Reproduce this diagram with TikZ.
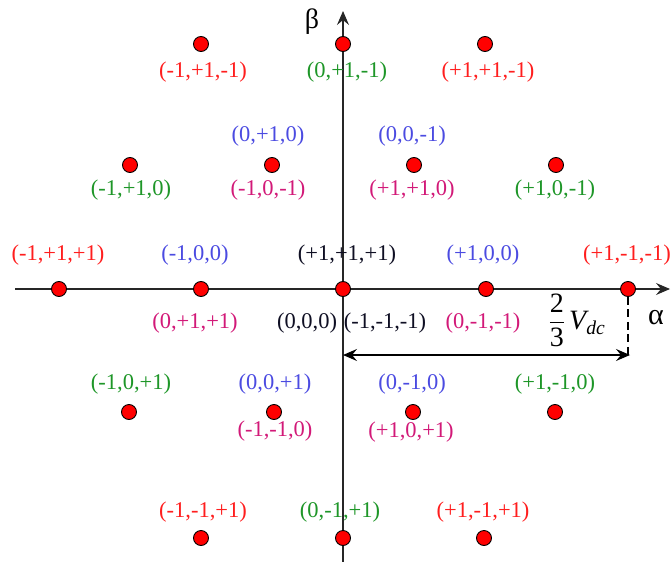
\documentclass[tikz,border=0pt]{standalone}
\usepackage{amsmath}
\usepackage{fontspec}
\setmainfont{Liberation Serif}
\usetikzlibrary{arrows.meta}
\definecolor{cred}{RGB}{255,30,30}
\definecolor{cgreen}{RGB}{30,150,40}
\definecolor{cblue}{RGB}{75,75,225}
\definecolor{cmag}{RGB}{210,25,120}
\definecolor{cblack}{RGB}{15,15,35}
\begin{document}
\begin{tikzpicture}[x=1pt,y=-1pt,
  dot/.style={circle,draw=black,fill=red,line width=0.9pt,minimum size=15pt,inner sep=0pt},
  lab/.style={font=\fontsize{22.5}{24}\selectfont,inner sep=0pt},
  tipx/.tip={Stealth[length=14pt,width=12pt,inset=5pt]},
  axis/.style={line width=1.2pt,draw=black!85,-tipx},
  dim/.style={line width=1.2pt,draw=black,tipx-tipx},
  dimdash/.style={line width=1.2pt,draw=black,dash pattern=on 8pt off 4.5pt}]
\useasboundingbox (0,0) rectangle (672,562);
% axes
\coordinate (xl) at (15,289); \coordinate (xr) at (670,289);
\coordinate (yb) at (343,562); \coordinate (yt) at (343,11);
\draw[axis] (xl) -- (xr);
\draw[axis] (yb) -- (yt);
\node[lab,font=\fontsize{30}{32}\selectfont] (alpha) at (656,318) {α};
\node[lab,font=\fontsize{28}{30}\selectfont] (beta) at (312,22) {β};
% dots
\node[dot] (d1) at (201,44) {};
\node[dot] (d2) at (343,44) {};
\node[dot] (d3) at (485,44) {};
\node[dot] (d4) at (130,165) {};
\node[dot] (d5) at (272,165) {};
\node[dot] (d6) at (414,165) {};
\node[dot] (d7) at (556,165) {};
\node[dot] (d8) at (59,289) {};
\node[dot] (d9) at (201,289) {};
\node[dot] (d0) at (343,289) {};
\node[dot] (d10) at (486,289) {};
\node[dot] (d11) at (628,289) {};
\node[dot] (d12) at (129,412) {};
\node[dot] (d13) at (274,412) {};
\node[dot] (d14) at (413,412) {};
\node[dot] (d15) at (555,412) {};
\node[dot] (d16) at (201,538) {};
\node[dot] (d17) at (343,538) {};
\node[dot] (d18) at (484,538) {};
% labels
\node[lab,text=cred]   (l1)  at (203,72)  {(-1,+1,-1)};
\node[lab,text=cgreen] (l2)  at (347,72)  {(0,+1,-1)};
\node[lab,text=cred]   (l3)  at (488,72)  {(+1,+1,-1)};
\node[lab,text=cblue]  (l4)  at (268,136) {(0,+1,0)};
\node[lab,text=cblue]  (l5)  at (412,136) {(0,0,-1)};
\node[lab,text=cgreen] (l6)  at (131,190) {(-1,+1,0)};
\node[lab,text=cmag]   (l7)  at (268,190) {(-1,0,-1)};
\node[lab,text=cmag]   (l8)  at (412,190) {(+1,+1,0)};
\node[lab,text=cgreen] (l9)  at (555,190) {(+1,0,-1)};
\node[lab,text=cred]   (l10) at (58,255)  {(-1,+1,+1)};
\node[lab,text=cblue]  (l11) at (195,255) {(-1,0,0)};
\node[lab,text=cblack] (l12) at (347,255) {(+1,+1,+1)};
\node[lab,text=cblue]  (l13) at (483,255) {(+1,0,0)};
\node[lab,text=cred]   (l14) at (627,255) {(+1,-1,-1)};
\node[lab,text=cmag]   (l15) at (195,323) {(0,+1,+1)};
\node[lab,text=cblack] (l16) at (307,323) {(0,0,0)};
\node[lab,text=cblack] (l17) at (385,323) {(-1,-1,-1)};
\node[lab,text=cmag]   (l18) at (483,323) {(0,-1,-1)};
\node[lab,text=cgreen] (l19) at (131,384) {(-1,0,+1)};
\node[lab,text=cblue]  (l20) at (275,384) {(0,0,+1)};
\node[lab,text=cblue]  (l21) at (412,384) {(0,-1,0)};
\node[lab,text=cgreen] (l22) at (555,384) {(+1,-1,0)};
\node[lab,text=cmag]   (l23) at (275,431) {(-1,-1,0)};
\node[lab,text=cmag]   (l24) at (411,432) {(+1,0,+1)};
\node[lab,text=cred]   (l25) at (203,512) {(-1,-1,+1)};
\node[lab,text=cgreen] (l26) at (340,512) {(0,-1,+1)};
\node[lab,text=cred]   (l27) at (483,512) {(+1,-1,+1)};
% dimension
\coordinate (m0) at (343,355);
\coordinate (m1) at (630,355);
\draw[dimdash] (d11.south) -- (d11.south |- m1);
\draw[dim] (m0) -- (m1);
\node[lab,font=\fontsize{28}{30}\selectfont] (vdc) at (577,320) {$\dfrac{\text{2}}{\text{3}}\,\text{\itshape V}_{\text{\itshape dc}}$};
\end{tikzpicture}
\end{document}
